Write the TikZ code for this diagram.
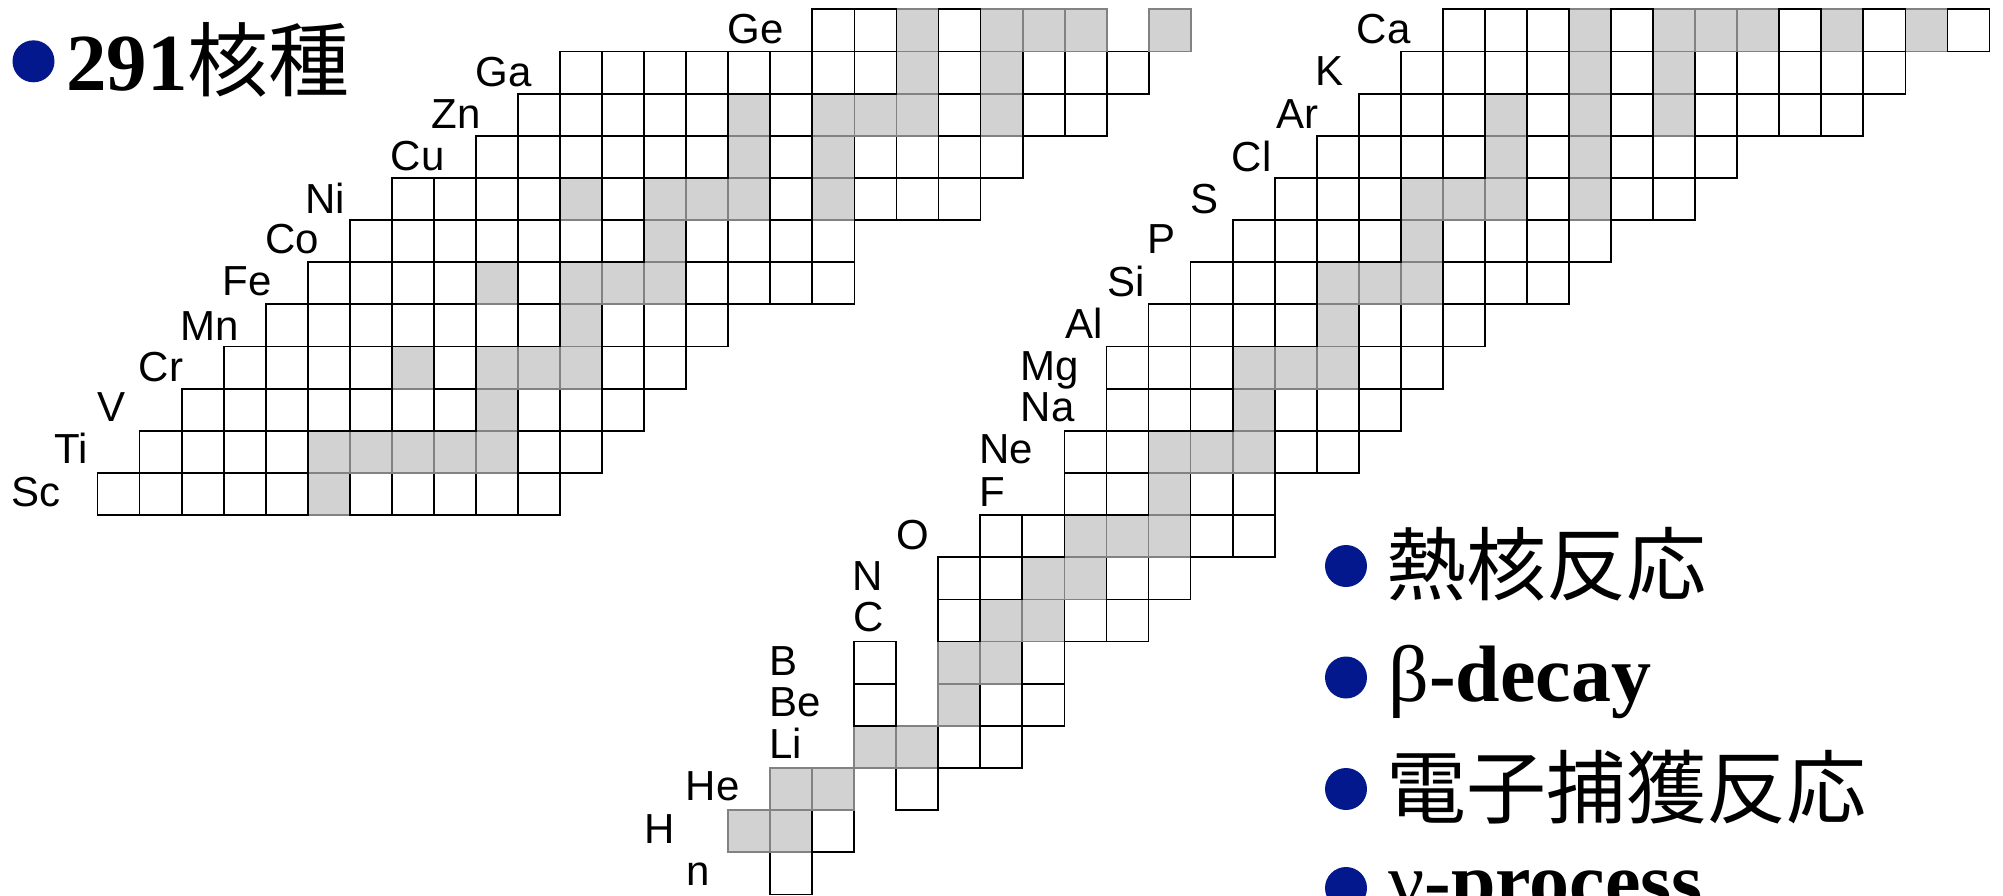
\documentclass[tikz,border=0pt]{standalone}
\usepackage{fontspec}
\setmainfont{Liberation Serif}
\newfontfamily\labfont{Liberation Sans}
\newfontfamily\cjk{Noto Sans CJK JP}
\definecolor{stabfill}{RGB}{210,210,210}
\definecolor{stabline}{RGB}{130,130,130}
\definecolor{bulblue}{RGB}{4,24,142}
\tikzset{
  stab/.style={fill=stabfill, draw=stabline, line width=0.9pt},
  unst/.style={draw=black, line width=0.9pt},
  lab/.style={font=\labfont\fontsize{21}{21}\selectfont, anchor=base west, inner sep=0pt},
  bulnode/.style={circle, fill=bulblue, draw=none, minimum size=21pt, inner sep=0pt},
  bigtxt/.style={anchor=base west, inner sep=0pt},
}
% left chart: Sc..Ge, x from neutron number, y from proton number
\newcommand\stabL[2]{\foreach \n in {#2}{\path[stab] ({97.5+(\n-19)*42.05},{9.3+(32-#1)*42.15}) rectangle ++(42.05,42.15);}}
\newcommand\unstL[2]{\foreach \n in {#2}{\path[unst] ({97.5+(\n-19)*42.05},{9.3+(32-#1)*42.15}) rectangle ++(42.05,42.15);}}
% right chart: n..Ca
\newcommand\stabR[2]{\foreach \n in {#2}{\path[stab] ({728+\n*42.05},{9.3+(20-#1)*42.15}) rectangle ++(42.05,42.15);}}
\newcommand\unstR[2]{\foreach \n in {#2}{\path[unst] ({728+\n*42.05},{9.3+(20-#1)*42.15}) rectangle ++(42.05,42.15);}}
\begin{document}
\begin{tikzpicture}[x=0.5pt,y=-0.5pt]
\useasboundingbox (0,0) rectangle (2003,895);
\clip (0,0) rectangle (2003,895);
\fill[white] (0,0) rectangle (2003,895);
% ---------- left chart ----------
\stabL{21}{24}
\unstL{21}{19,20,21,22,23,25,26,27,28,29}
\stabL{22}{24,25,26,27,28}
\unstL{22}{20,21,22,23,29,30}
\stabL{23}{28}
\unstL{23}{21,22,23,24,25,26,27,29,30,31}
\stabL{24}{26,28,29,30}
\unstL{24}{22,23,24,25,27,31,32}
\stabL{25}{30}
\unstL{25}{23,24,25,26,27,28,29,31,32,33}
\stabL{26}{28,30,31,32}
\unstL{26}{24,25,26,27,29,33,34,35,36}
\stabL{27}{32}
\unstL{27}{25,26,27,28,29,30,31,33,34,35,36}
\stabL{28}{30,32,33,34,36}
\unstL{28}{26,27,28,29,31,35,37,38,39}
\stabL{29}{34,36}
\unstL{29}{28,29,30,31,32,33,35,37,38,39,40}
\stabL{30}{34,36,37,38,40}
\unstL{30}{29,30,31,32,33,35,39,41,42}
\stabL{31}{38,40}
\unstL{31}{30,31,32,33,34,35,36,37,39,41,42,43}
\stabL{32}{38,40,41,42,44}
\unstL{32}{36,37,39}
% ---------- right chart ----------
\unstR{0}{1}
\stabR{1}{0,1}
\unstR{1}{2}
\stabR{2}{1,2}
\unstR{2}{4}
\stabR{3}{3,4}
\unstR{3}{5,6}
\stabR{4}{5}
\unstR{4}{3,6,7}
\stabR{5}{5,6}
\unstR{5}{3,7}
\stabR{6}{6,7}
\unstR{6}{5,8,9}
\stabR{7}{7,8}
\unstR{7}{5,6,9,10}
\stabR{8}{8,9,10}
\unstR{8}{6,7,11,12}
\stabR{9}{10}
\unstR{9}{8,9,11,12}
\stabR{10}{10,11,12}
\unstR{10}{8,9,13,14}
\stabR{11}{12}
\unstR{11}{9,10,11,13,14,15}
\stabR{12}{12,13,14}
\unstR{12}{9,10,11,15,16}
\stabR{13}{14}
\unstR{13}{10,11,12,13,15,16,17}
\stabR{14}{14,15,16}
\unstR{14}{11,12,13,17,18,19}
\stabR{15}{16}
\unstR{15}{12,13,14,15,17,18,19,20}
\stabR{16}{16,17,18,20}
\unstR{16}{13,14,15,19,21,22}
\stabR{17}{18,20}
\unstR{17}{14,15,16,17,19,21,22,23}
\stabR{18}{18,20,22}
\unstR{18}{15,16,17,19,21,23,24,25,26}
\stabR{19}{20,22}
\unstR{19}{16,17,18,19,21,23,24,25,26,27}
\stabR{20}{20,22,23,24,26,28}
\unstR{20}{17,18,19,21,25,27,29}
% ---------- element labels ----------
\node[lab] (lSc) at (11.5,506.7) {Sc};
\node[lab] (lTi) at (54,463.3) {Ti};
\node[lab] (lV)  at (97.5,421.7) {V};
\node[lab] (lCr) at (138.5,381.7) {Cr};
\node[lab] (lMn) at (180.5,340) {Mn};
\node[lab] (lFe) at (222.5,295) {Fe};
\node[lab] (lCo) at (265,253.3) {Co};
\node[lab] (lNi) at (305,213.3) {Ni};
\node[lab] (lCu) at (390.5,170.7) {Cu};
\node[lab] (lZn) at (431.5,128.3) {Zn};
\node[lab] (lGa) at (475.5,86) {Ga};
\node[lab] (lGe) at (727,43.3) {Ge};
\node[lab] (lCa) at (1356.5,43.3) {Ca};
\node[lab] (lK)  at (1315.5,85) {K};
\node[lab] (lAr) at (1276,128.3) {Ar};
\node[lab] (lCl) at (1231.5,171.7) {Cl};
\node[lab] (lS)  at (1190,213.3) {S};
\node[lab] (lP)  at (1147.5,253.3) {P};
\node[lab] (lSi) at (1107.5,296.7) {Si};
\node[lab] (lAl) at (1065,338.3) {Al};
\node[lab] (lMg) at (1020.5,380) {Mg};
\node[lab] (lNa) at (1020.5,421.7) {Na};
\node[lab] (lNe) at (979,463.3) {Ne};
\node[lab] (lF)  at (979,506.7) {F};
\node[lab] (lO)  at (896,549) {O};
\node[lab] (lN)  at (852.5,590) {N};
\node[lab] (lC)  at (853,631.7) {C};
\node[lab] (lB)  at (769,675) {B};
\node[lab] (lBe) at (769,716.7) {Be};
\node[lab] (lLi) at (769,758.3) {Li};
\node[lab] (lHe) at (685.5,800) {He};
\node[lab] (lH)  at (644,843.3) {H};
\node[lab] (ln)  at (686,885) {n};
% ---------- title ----------
\node[bulnode] (b0) at (33.5,61.3) {};
\node[bigtxt, font=\fontsize{40.5}{40.5}\selectfont] (title) at (66,90) {\textbf{291}{\cjk 核種}};
% ---------- process list ----------
\node[bulnode] (b1) at (1346,566) {};
\node[bigtxt, font=\cjk\fontsize{40}{40}\selectfont] (t1) at (1386,594) {熱核反応};
\node[bulnode] (b2) at (1346,677.5) {};
\node[bigtxt, font=\fontsize{40}{40}\selectfont] (t2) at (1388,701.7) {β\textbf{-decay}};
\node[bulnode] (b3) at (1346,789) {};
\node[bigtxt, font=\cjk\fontsize{40}{40}\selectfont] (t3) at (1386,817) {電子捕獲反応};
\node[bulnode] (b4) at (1346,888) {};
\node[bigtxt, font=\fontsize{40}{40}\selectfont] (t4) at (1388,908) {ν\textbf{-process}};
\end{tikzpicture}
\end{document}
